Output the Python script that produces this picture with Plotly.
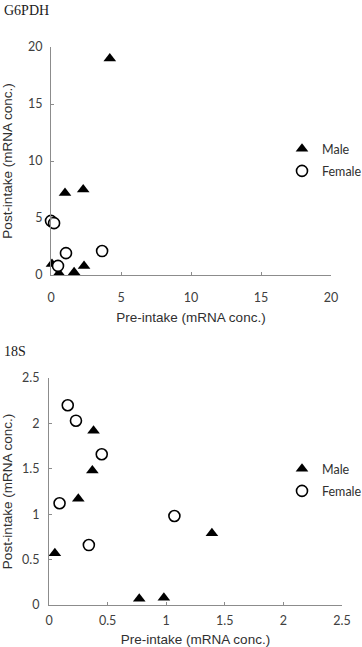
import plotly.graph_objects as go

# ---- Data: G6PDH ----
g6_male_pre = [4.2, 1.0, 2.3, 0.07, 0.57, 1.65, 2.36]
g6_male_post = [19.0, 7.2, 7.5, 0.96, 0.15, 0.25, 0.8]
g6_female_pre = [0.0, 0.22, 1.07, 3.65, 0.5]
g6_female_post = [4.75, 4.55, 1.92, 2.1, 0.8]

# ---- Data: 18S ----
s18_male_pre = [0.38, 0.37, 0.25, 0.05, 0.77, 0.98, 1.39]
s18_male_post = [1.92, 1.48, 1.17, 0.57, 0.07, 0.08, 0.79]
s18_female_pre = [0.16, 0.23, 0.45, 0.09, 0.34, 1.07]
s18_female_post = [2.2, 2.03, 1.66, 1.12, 0.66, 0.98]

g6_ticks = [0, 5, 10, 15, 20]
s18_ticks = [0, 0.5, 1, 1.5, 2, 2.5]
s18_ticktext = ["0", "0.5", "1", "1.5", "2", "2.5"]

W, H = 362, 647
AX = "#8c8c8c"
TICKF = dict(family="Lato", size=12.5, color="#404040")
TITLEF = dict(family="Liberation Sans", size=13.5, color="#303030")
LEGF = dict(family="Lato", size=12.5, color="#303030")
HEADF = dict(family="Liberation Serif", size=14, color="#202020")

tri = dict(symbol="triangle-up", size=11, color="black", line=dict(width=0))
circ = dict(symbol="circle", size=11, color="white", line=dict(width=1.6, color="black"))

fig = go.Figure()
fig.add_trace(go.Scatter(x=g6_male_pre, y=g6_male_post, mode="markers", name="Male",
                         marker=tri, xaxis="x", yaxis="y", legend="legend",
                         legendgroup="m1", cliponaxis=False))
fig.add_trace(go.Scatter(x=g6_female_pre, y=g6_female_post, mode="markers", name="Female",
                         marker=circ, xaxis="x", yaxis="y", legend="legend",
                         legendgroup="f1", cliponaxis=False))
fig.add_trace(go.Scatter(x=s18_male_pre, y=s18_male_post, mode="markers", name="Male",
                         marker=tri, xaxis="x2", yaxis="y2", legend="legend2",
                         legendgroup="m2", cliponaxis=False))
fig.add_trace(go.Scatter(x=s18_female_pre, y=s18_female_post, mode="markers", name="Female",
                         marker=circ, xaxis="x2", yaxis="y2", legend="legend2",
                         legendgroup="f2", cliponaxis=False))

def px_x(p):
    return p / W

def px_y(p):
    return 1 - p / H

common = dict(showgrid=False, zeroline=False, showline=True, linecolor=AX, linewidth=1,
              ticks="inside", ticklen=3, tickcolor=AX, tickwidth=1, tickfont=TICKF,
              automargin=False)

fig.update_layout(
    width=W, height=H, margin=dict(l=0, r=0, t=0, b=0, autoexpand=False),
    paper_bgcolor="white", plot_bgcolor="white",
    xaxis=dict(domain=[px_x(51), px_x(331)], range=[0, 20], tickvals=g6_ticks,
               anchor="y", ticklabelstandoff=11,
               title=dict(text="Pre-intake (mRNA conc.)", font=TITLEF, standoff=8), **common),
    yaxis=dict(domain=[px_y(275), px_y(47)], range=[0, 20], tickvals=g6_ticks,
               anchor="x", ticklabelstandoff=5,
               title=dict(text="Post-intake (mRNA conc.)", font=TITLEF, standoff=21), **common),
    xaxis2=dict(domain=[px_x(49), px_x(342)], range=[0, 2.5], tickvals=s18_ticks,
                ticktext=s18_ticktext, anchor="y2", ticklabelstandoff=4,
                title=dict(text="Pre-intake (mRNA conc.)", font=TITLEF, standoff=7), **common),
    yaxis2=dict(domain=[px_y(605), px_y(378)], range=[0, 2.5], tickvals=s18_ticks,
                ticktext=s18_ticktext, anchor="x2", ticklabelstandoff=6,
                title=dict(text="Post-intake (mRNA conc.)", font=TITLEF, standoff=15), **common),
    legend=dict(x=px_x(282), y=px_y(134), xanchor="left", yanchor="top",
                font=LEGF, bgcolor="rgba(0,0,0,0)", tracegroupgap=3,
                traceorder="grouped", itemwidth=30),
    legend2=dict(x=px_x(282), y=px_y(454), xanchor="left", yanchor="top",
                 font=LEGF, bgcolor="rgba(0,0,0,0)", tracegroupgap=3,
                 traceorder="grouped", itemwidth=30),
    annotations=[
        dict(text="G6PDH", x=px_x(2), y=px_y(10), xref="paper", yref="paper",
             xanchor="left", yanchor="middle", showarrow=False, font=HEADF),
        dict(text="18S", x=px_x(2), y=px_y(351), xref="paper", yref="paper",
             xanchor="left", yanchor="middle", showarrow=False, font=HEADF),
    ],
)

fig.write_html("out.html", config={"displayModeBar": False},
               post_script="document.body.style.margin='0';")
